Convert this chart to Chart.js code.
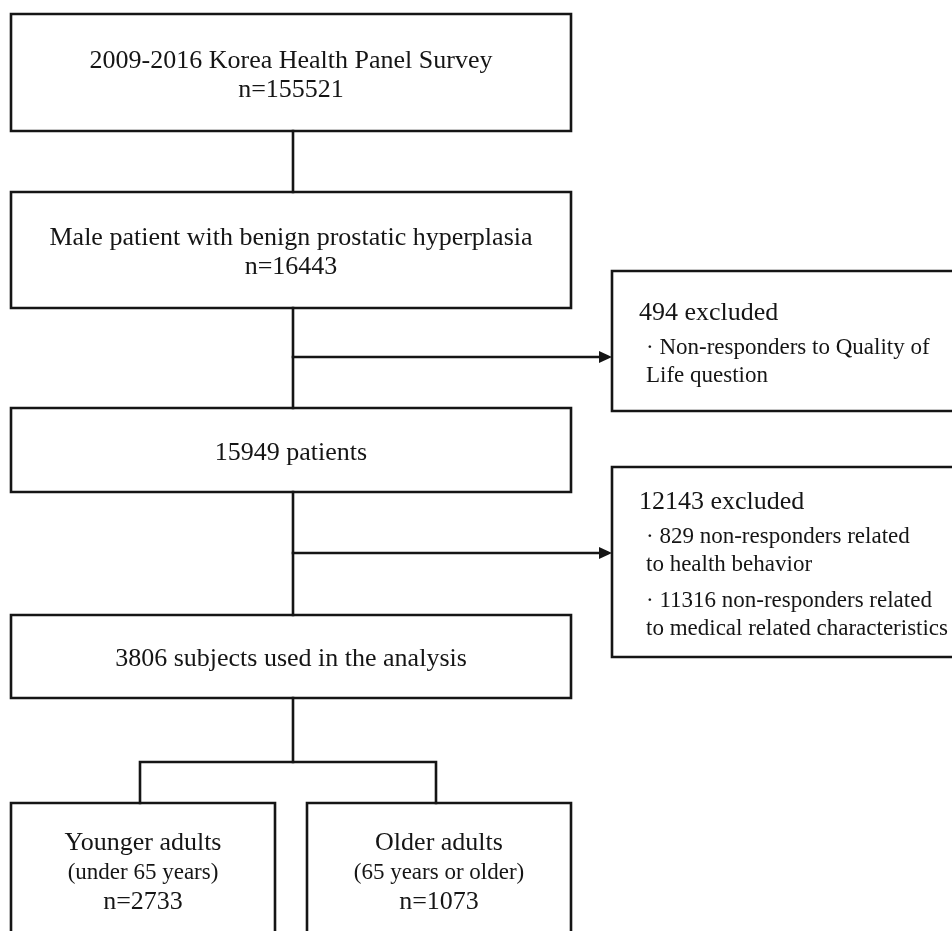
<!DOCTYPE html>
<html>
<head>
<meta charset="utf-8">
<script src="https://cdn.jsdelivr.net/npm/chart.js@4"></script>
<style>
  html, body { margin: 0; padding: 0; background: #fff; }
  #wrap { width: 952px; height: 931px; position: relative; }
</style>
</head>
<body>
<div id="wrap"><canvas id="flow"></canvas></div>
<script>
// ── Labels (the chart's content) ─────────────────────────────────────────
const MAIN_LABELS = [
  ['2009-2016 Korea Health Panel Survey', 'n=155521'],
  ['Male patient with benign prostatic hyperplasia', 'n=16443'],
  ['15949 patients'],
  ['3806 subjects used in the analysis'],
];
const GROUP_LABELS = [
  ['Younger adults', '(under 65 years)', 'n=2733'],
  ['Older adults', '(65 years or older)', 'n=1073'],
];
const EXCLUDED_HEADS = ['494 excluded', '12143 excluded'];
const EXCLUDED_ITEMS = [
  [['Non-responders to Quality of', 'Life question']],
  [['829 non-responders related', 'to health behavior'],
   ['11316 non-responders related', 'to medical related characteristics']],
];

// ── Layout (axis units: x 0..952, y 0..931 top-down) ─────────────────────
const MAIN_BOXES  = [[11, 14, 571, 131], [11, 192, 571, 308], [11, 408, 571, 492], [11, 615, 571, 698]];
const GROUP_BOXES = [[11, 803, 275, 945], [307, 803, 571, 945]];
const EXCL_BOXES  = [[612, 271, 960, 411], [612, 467, 960, 657]];
const STEM_X = 293;
const ARROW_Y = [357, 553];
const SPLIT_Y = 762;
const SPLIT_X = [140, 436];

const INK = '#151515';
const FONT = '"Liberation Serif", "Times New Roman", serif';

// ── Line geometry built from layout ──────────────────────────────────────
const rect = ([x0, y0, x1, y1]) => [
  { x: x0, y: y0 }, { x: x1, y: y0 }, { x: x1, y: y1 }, { x: x0, y: y1 }, { x: x0, y: y0 },
];

const paths = [
  ...MAIN_BOXES.map(rect),
  ...GROUP_BOXES.map(rect),
  ...EXCL_BOXES.map(rect),
  [{ x: STEM_X, y: MAIN_BOXES[0][3] }, { x: STEM_X, y: MAIN_BOXES[1][1] }],
  [{ x: STEM_X, y: MAIN_BOXES[1][3] }, { x: STEM_X, y: MAIN_BOXES[2][1] }],
  [{ x: STEM_X, y: MAIN_BOXES[2][3] }, { x: STEM_X, y: MAIN_BOXES[3][1] }],
  [{ x: STEM_X, y: MAIN_BOXES[3][3] }, { x: STEM_X, y: SPLIT_Y }],
  [{ x: SPLIT_X[0], y: GROUP_BOXES[0][1] }, { x: SPLIT_X[0], y: SPLIT_Y },
   { x: SPLIT_X[1], y: SPLIT_Y }, { x: SPLIT_X[1], y: GROUP_BOXES[1][1] }],
  ...ARROW_Y.map((y, i) => [{ x: STEM_X, y }, { x: EXCL_BOXES[i][0] - 10, y }]),
];

const datasets = paths.map(data => ({
  data,
  showLine: true,
  borderColor: INK,
  borderWidth: 2.6,
  pointRadius: 0,
  fill: false,
  tension: 0,
  clip: false,
  borderJoinStyle: 'miter',
  borderCapStyle: 'square',
}));

// ── Text + arrowheads plugin ─────────────────────────────────────────────
const flowText = {
  id: 'flowText',
  afterDatasetsDraw(chart) {
    const { ctx, scales: { x, y } } = chart;
    const px = v => x.getPixelForValue(v);
    const py = v => y.getPixelForValue(v);
    ctx.save();
    ctx.fillStyle = INK;
    ctx.textBaseline = 'middle';

    // arrowheads
    ARROW_Y.forEach((ay, i) => {
      const tip = px(EXCL_BOXES[i][0]);
      ctx.beginPath();
      ctx.moveTo(tip, py(ay));
      ctx.lineTo(tip - 13, py(ay) - 6);
      ctx.lineTo(tip - 13, py(ay) + 6);
      ctx.closePath();
      ctx.fill();
    });

    // main boxes
    ctx.textAlign = 'center';
    ctx.font = `26px ${FONT}`;
    MAIN_LABELS.forEach((lines, i) => {
      const [x0, y0, x1, y1] = MAIN_BOXES[i];
      const cx = (x0 + x1) / 2, cy = (y0 + y1) / 2 + 3;
      lines.forEach((t, k) => {
        ctx.fillText(t, px(cx), py(cy + (k - (lines.length - 1) / 2) * 29));
      });
    });

    // group boxes
    const groupOff = [40, 70, 99];
    const groupSize = [26, 23, 26];
    GROUP_LABELS.forEach((lines, i) => {
      const [x0, y0, x1] = GROUP_BOXES[i];
      lines.forEach((t, k) => {
        ctx.font = `${groupSize[k]}px ${FONT}`;
        ctx.fillText(t, px((x0 + x1) / 2), py(y0 + groupOff[k]));
      });
    });

    // excluded boxes
    ctx.textAlign = 'left';
    EXCLUDED_HEADS.forEach((head, i) => {
      const [x0, y0, , y1] = EXCL_BOXES[i];
      const rows = [{ t: head, dy: 0, head: true }];
      let dy = 35;
      EXCLUDED_ITEMS[i].forEach((item, j) => {
        if (j > 0) dy += 8;
        item.forEach((t, k) => {
          rows.push({ t: k === 0 ? '\u00B7 ' + t : t, dy });
          dy += 28;
        });
      });
      const span = rows[rows.length - 1].dy;
      const top = (y0 + y1) / 2 - span / 2 + 3.5;
      rows.forEach(r => {
        ctx.font = r.head ? `26px ${FONT}` : `23px ${FONT}`;
        ctx.fillText(r.t, px(x0 + (r.head ? 27 : 34)), py(top + r.dy));
      });
    });
    ctx.restore();
  },
};

new Chart(document.getElementById('flow'), {
  type: 'scatter',
  data: { datasets },
  plugins: [flowText],
  options: {
    responsive: true,
    maintainAspectRatio: false,
    animation: false,
    layout: { padding: 0 },
    plugins: { legend: { display: false }, tooltip: { enabled: false } },
    scales: {
      x: { type: 'linear', min: 0, max: 952, display: false },
      y: { type: 'linear', min: 0, max: 931, reverse: true, display: false },
    },
  },
});
</script>
</body>
</html>
